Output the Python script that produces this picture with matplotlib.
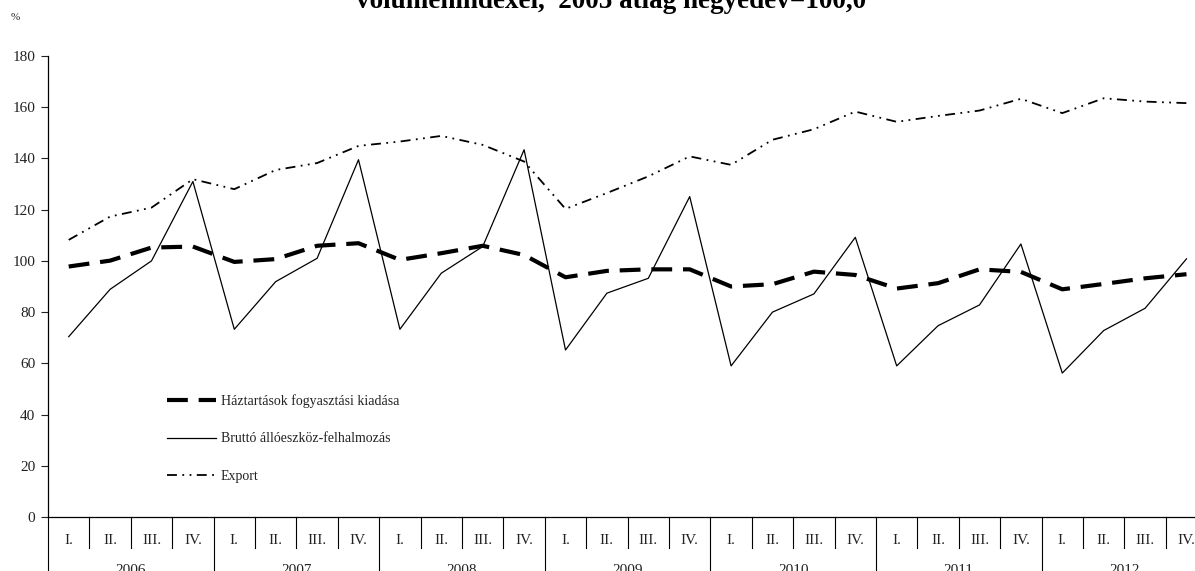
import matplotlib
matplotlib.use("Agg")
import matplotlib.pyplot as plt
import matplotlib.transforms as mtransforms

plt.rcParams['font.family'] = ['Liberation Serif', 'DejaVu Serif']

years = ['2006', '2007', '2008', '2009', '2010', '2011', '2012']
quarters = ['I.', 'II.', 'III.', 'IV.']

haztartas = [97.8, 100.1, 105.2, 105.6, 99.6, 100.7, 105.9, 106.9,
             100.4, 103.0, 105.9, 102.3, 93.6, 96.1, 96.7, 96.7,
             90.0, 90.9, 95.8, 94.5, 89.2, 91.3, 96.7, 95.7,
             88.9, 91.0, 93.2, 94.8]
brutto = [70.4, 88.9, 100.0, 131.0, 73.3, 91.9, 101.0, 139.5,
          73.3, 95.2, 105.6, 143.4, 65.2, 87.4, 93.2, 125.1,
          59.0, 80.0, 87.1, 109.2, 59.0, 74.7, 82.8, 106.6,
          56.2, 72.8, 81.5, 100.8]
export = [108.2, 117.3, 120.8, 131.9, 128.0, 135.5, 138.2, 144.9,
          146.6, 148.8, 145.3, 138.8, 120.3, 126.5, 133.0, 140.8,
          137.5, 147.3, 151.4, 158.3, 154.3, 156.6, 158.7, 163.3,
          157.7, 163.5, 162.2, 161.6]

labels = ['Háztartások fogyasztási kiadása',
          'Bruttó állóeszköz-felhalmozás',
          'Export']

W, H = 1195, 571
fig = plt.figure(figsize=(W / 100, H / 100), dpi=100)
ax_h = (517 - 56) / H
ax = fig.add_axes([48 / W, (H - 517) / H, 28 * 41.4 / W, ax_h])

n = len(haztartas)
x = [i + 0.5 for i in range(n)]

ax.plot(x, haztartas, color='black', lw=3.0, dashes=(5, 2.6), label=labels[0])
ax.plot(x, brutto, color='black', lw=0.9, label=labels[1])
ax.plot(x, export, color='black', lw=1.3, dashes=(5.5, 3, 1, 3, 1, 3), label=labels[2])

ax.set_xlim(0, n)
ax.set_ylim(0, 180)
ax.set_yticks(range(0, 181, 20))
ax.tick_params(axis='y', direction='out', length=5, width=0.8, labelsize=11, pad=4, colors='#222222')
ax.set_xticks([])
for s in ['top', 'right']:
    ax.spines[s].set_visible(False)
ax.spines['left'].set_linewidth(0.9)
ax.spines['bottom'].set_linewidth(0.9)
ax.spines['left'].set_bounds(0, 180)

# category axis below: quarters and years
def px(v):
    return v / (ax_h * H)

trans = mtransforms.blended_transform_factory(ax.transData, ax.transAxes)
for i in range(n):
    ax.text(x[i], -px(23), quarters[i % 4], transform=trans, ha='center', va='center',
            fontsize=11, color='#222222')
    if i % 4 == 0:
        ax.plot([i, i], [0, -px(70)], transform=trans, color='black', lw=0.8, clip_on=False)
    else:
        ax.plot([i, i], [0, -px(31)], transform=trans, color='black', lw=0.8, clip_on=False)
for j, yr in enumerate(years):
    ax.text(j * 4 + 2, -px(54), yr, transform=trans, ha='center', va='center',
            fontsize=11, color='#222222')

leg = ax.legend(loc='upper left', bbox_to_anchor=(0.098, 0.278), frameon=False, fontsize=10,
                handlelength=3.5, handletextpad=0.35, labelspacing=1.75, borderaxespad=0)
for t in leg.get_texts():
    t.set_color('#222222')

fig.text(15 / W, 1 - 18 / H, '%', fontsize=8, ha='center', va='center', color='#222222')
fig.text(611 / W, 1 - 7.5 / H, 'volumenindexei,  2005 átlag negyedév=100,0', fontsize=19.5,
         fontweight='bold', ha='center', va='baseline')

fig.savefig('out.png', dpi=100)
